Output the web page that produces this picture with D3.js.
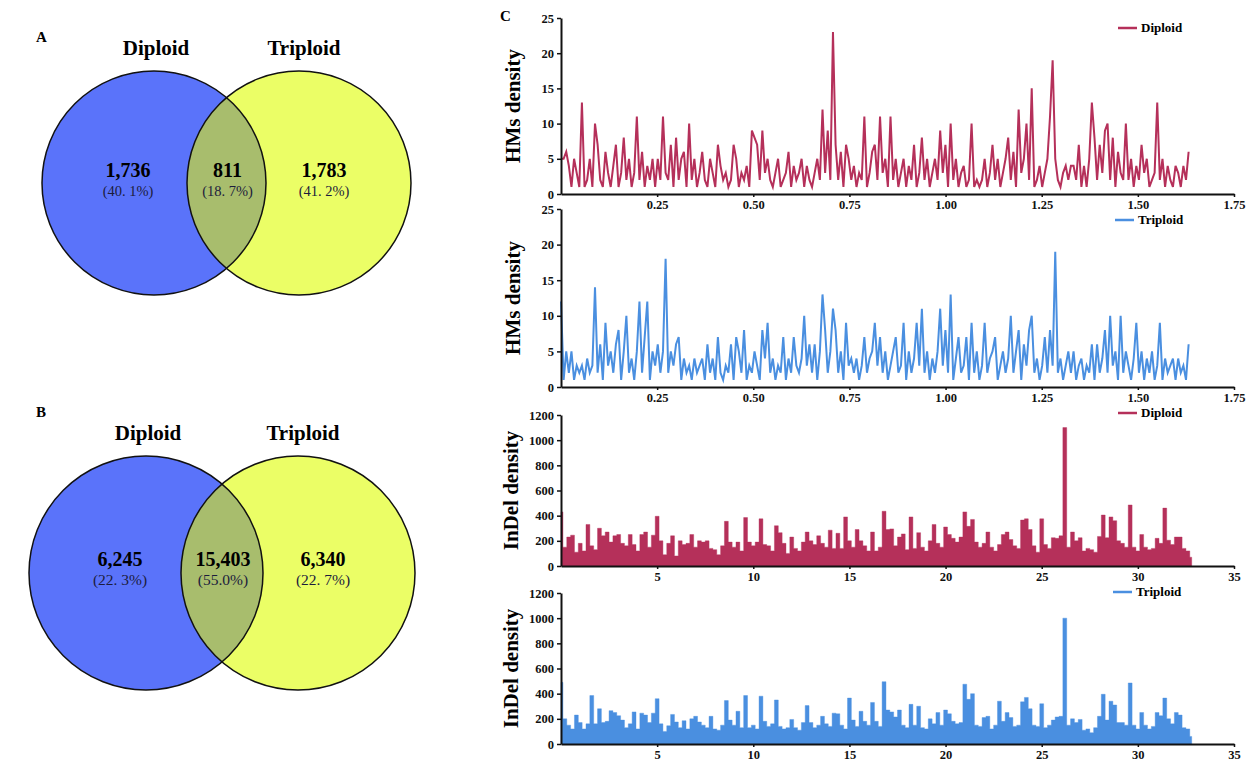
<!DOCTYPE html>
<html>
<head>
<meta charset="utf-8">
<script src="https://cdn.jsdelivr.net/npm/d3@7"></script>
<style>
  body { margin: 0; background: #fff; }
  text { font-family: "Liberation Serif", "Times New Roman", serif; }
</style>
</head>
<body>
<script>
// ---- data ----
var vennGroups = ["Diploid", "Triploid"];
var vennA = ["1,736", "811", "1,783"];
var vennAPct = ["(40. 1%)", "(18. 7%)", "(41. 2%)"];
var vennB = ["6,245", "15,403", "6,340"];
var vennBPct = ["(22. 3%)", "(55.0%)", "(22. 7%)"];

// HMs density, one value per bin of 0.0068 (x axis 0 - 1.75)
var hmsStep = 0.0068;
var hmsDiploid = [
  5,5,6,4,1,5,3,1,13,1,2,5,1,10,7,2,1,6,3,1,
  4,7,1,3,8,2,5,1,3,11,2,6,1,4,2,5,1,5,2,11,
  3,2,7,1,8,2,5,6,1,10,2,5,1,3,6,2,1,5,3,1,
  7,4,2,3,1,2,7,5,1,3,2,4,1,9,8,7,2,9,3,5,
  2,1,3,5,1,2,3,6,1,4,2,3,5,1,4,2,1,3,5,2,
  12,3,9,2,23,7,2,6,1,7,5,2,4,1,3,2,11,1,3,6,
  7,2,11,3,5,1,11,2,5,1,3,5,1,4,2,7,1,3,8,2,
  5,1,3,5,2,9,3,7,1,10,2,5,1,3,4,1,2,10,1,2,
  1,2,5,1,3,7,2,5,1,3,5,8,2,6,1,12,3,5,10,2,
  15,1,2,4,1,3,5,11,19,5,2,1,3,4,2,4,4,2,7,1,
  4,1,5,13,8,2,7,3,9,10,2,8,1,6,3,2,10,2,5,1,
  4,2,7,3,5,1,2,3,13,2,5,1,4,2,1,4,3,1,4,2,6
];
var hmsTriploid = [
  12,1,5,2,5,1,3,2,3,1,4,2,3,14,2,6,1,9,3,5,
  2,6,8,1,5,10,2,4,1,5,12,2,7,12,1,5,3,6,2,5,
  18,2,5,3,6,7,1,4,2,3,1,4,2,3,4,1,6,2,4,1,
  7,2,1,3,2,6,1,7,5,2,8,1,3,2,5,3,1,8,4,9,
  2,4,1,3,2,7,1,4,2,7,3,2,4,10,3,6,2,6,1,5,
  13,8,2,5,11,8,2,5,1,9,3,4,2,4,1,3,7,2,4,5,
  9,3,7,2,5,1,3,5,7,2,3,9,1,5,2,4,9,3,11,2,
  5,1,4,2,5,11,3,8,2,13,1,4,7,2,3,7,1,9,2,5,
  1,3,9,2,4,5,7,1,3,5,2,4,10,2,5,8,1,6,3,8,
  10,2,4,1,3,7,2,8,3,19,2,4,1,3,5,2,5,1,3,4,
  1,3,2,6,1,6,2,4,8,2,10,3,5,1,10,2,5,3,1,4,
  9,2,5,1,4,2,5,1,3,9,1,4,2,3,4,1,4,2,3,1,6
];

// InDel density, one value per bin of 0.2 (x axis 0 - 35)
var indelStep = 0.2;
var indelDiploid = [
  430,150,230,245,110,180,120,330,160,130,300,240,270,190,240,
  250,180,160,250,170,120,250,270,150,245,395,200,90,180,240,
  80,200,170,180,250,150,200,190,200,140,130,90,160,355,190,
  150,190,120,385,190,160,190,375,170,160,120,320,265,180,100,
  230,140,120,190,270,200,170,240,180,150,285,140,260,140,390,
  200,150,290,200,160,120,270,120,150,435,290,295,160,230,255,
  130,390,140,265,150,120,200,330,180,150,310,250,220,190,230,
  430,315,370,190,150,180,270,150,120,170,250,270,210,160,140,
  365,375,290,160,110,375,170,140,225,220,240,1100,150,270,200,
  225,120,140,130,110,235,405,225,390,360,200,180,150,485,150,
  120,250,150,130,140,220,180,460,205,170,230,230,140,120,70
];
var indelTriploid = [
  490,200,150,120,230,170,120,160,385,160,280,170,180,265,250,
  225,190,130,160,255,120,245,230,170,245,360,160,100,145,235,
  175,130,185,120,200,220,175,150,130,220,120,110,150,345,190,
  150,260,130,385,130,150,120,380,180,140,160,350,140,120,130,
  195,130,110,170,305,170,130,150,220,160,140,245,240,150,120,
  365,190,140,260,180,150,330,180,140,495,270,255,215,270,150,
  130,315,150,300,130,120,200,160,250,150,270,240,180,160,170,
  475,355,400,150,140,210,220,120,150,340,180,250,210,140,150,
  335,370,280,150,140,320,130,150,190,215,220,1000,150,200,170,
  195,110,120,90,130,220,395,190,340,310,170,170,150,485,150,
  120,250,150,120,140,250,225,365,200,160,250,230,130,120,60
];

var hmsTicksX = [0.25, 0.5, 0.75, 1.0, 1.25, 1.5, 1.75];
var hmsTicksY = [0, 5, 10, 15, 20, 25];
var indelTicksX = [5, 10, 15, 20, 25, 30, 35];
var indelTicksY = [0, 200, 400, 600, 800, 1000, 1200];

var colDip = "#b5305a";
var colTri = "#4a8fe0";

var svg = d3.select("body").append("svg").attr("width", 1254).attr("height", 763);

// ---- Venn diagrams ----
function venn(id, cx1, cx2, cy, r, labelY, letter, letterY, nums, pcts, numY, pctSize) {
  var g = svg.append("g");
  var defs = svg.append("defs");
  defs.append("clipPath").attr("id", id).append("circle")
    .attr("cx", cx2).attr("cy", cy).attr("r", r);

  g.append("circle").attr("cx", cx1).attr("cy", cy).attr("r", r).attr("fill", "#5a73fa");
  g.append("circle").attr("cx", cx2).attr("cy", cy).attr("r", r).attr("fill", "#ebfe66");
  g.append("circle").attr("cx", cx1).attr("cy", cy).attr("r", r)
    .attr("fill", "#a8bd6d").attr("clip-path", "url(#" + id + ")");
  [cx1, cx2].forEach(function(cx) {
    g.append("circle").attr("cx", cx).attr("cy", cy).attr("r", r)
      .attr("fill", "none").attr("stroke", "#111").attr("stroke-width", 1.5);
  });

  g.append("text").attr("x", 36).attr("y", letterY).text(letter)
    .attr("font-size", 15).attr("font-weight", "bold");
  g.append("text").attr("x", cx1 + 2).attr("y", labelY).text(vennGroups[0])
    .attr("text-anchor", "middle").attr("font-size", 21).attr("font-weight", "bold");
  g.append("text").attr("x", cx2 + 5).attr("y", labelY).text(vennGroups[1])
    .attr("text-anchor", "middle").attr("font-size", 21).attr("font-weight", "bold");

  var mid = (cx1 + cx2) / 2;
  var xs = [cx1 - 26, mid + 1, cx2 + 25];
  nums.forEach(function(n, i) {
    g.append("text").attr("x", xs[i]).attr("y", numY).text(n)
      .attr("text-anchor", "middle").attr("font-size", 20).attr("font-weight", "bold");
    g.append("text").attr("x", xs[i]).attr("y", numY + 19).text(pcts[i])
      .attr("text-anchor", "middle").attr("font-size", pctSize).attr("fill", "#1c1c3c");
  });
}

venn("clipA", 154, 299, 183, 112, 55, "A", 42, vennA, vennAPct, 177, 14.5);
venn("clipB", 146, 298, 573, 117, 440, "B", 417, vennB, vennBPct, 566, 15.5);

// ---- panel C ----
svg.append("text").attr("x", 500).attr("y", 21).text("C")
  .attr("font-size", 15).attr("font-weight", "bold");

function panel(values, step, area, color, top, bottom, xMax, yMax, ticksX, ticksY, ylab, ylabX, legend, legY, legX) {
  var x = d3.scaleLinear().domain([0, xMax]).range([561, 1234]);
  var y = d3.scaleLinear().domain([0, yMax]).range([bottom, top]);
  var g = svg.append("g");

  if (area) {
    g.append("path").datum(values)
      .attr("d", d3.area().curve(d3.curveStep)
        .x(function(d, i) { return x(i * step); }).y0(y(0)).y1(function(d) { return y(d); }))
      .attr("fill", color).attr("stroke", color).attr("stroke-width", 0.4);
  } else {
    g.append("path").datum(values)
      .attr("d", d3.line().x(function(d, i) { return x(i * step); }).y(function(d) { return y(d); }))
      .attr("fill", "none").attr("stroke", color).attr("stroke-width", 2)
      .attr("stroke-linejoin", "miter");
  }

  var xa = g.append("g").attr("transform", "translate(0," + bottom + ")")
    .call(d3.axisBottom(x).tickValues(ticksX).tickSize(3).tickSizeOuter(0)
      .tickFormat(xMax > 10 ? d3.format("d") : d3.format(".2f")));
  var ya = g.append("g").attr("transform", "translate(561,0)")
    .call(d3.axisLeft(y).tickValues(ticksY).tickSize(4).tickSizeOuter(0).tickFormat(d3.format("d")));
  [xa, ya].forEach(function(a) {
    a.select(".domain").attr("stroke", "#111").attr("stroke-width", 2);
    a.selectAll(".tick line").attr("stroke", "#111").attr("stroke-width", 1.5);
    a.selectAll("text").attr("font-family", "Liberation Serif, serif")
      .attr("font-size", 12.5).attr("font-weight", "bold").attr("fill", "#111");
  });

  g.append("text").attr("transform", "translate(" + ylabX + "," + ((top + bottom) / 2) + ") rotate(-90)")
    .attr("text-anchor", "middle").attr("font-size", 21).attr("font-weight", "bold").text(ylab);

  g.append("line").attr("x1", legX).attr("x2", legX + 19).attr("y1", legY).attr("y2", legY)
    .attr("stroke", color).attr("stroke-width", 2.5);
  g.append("text").attr("x", legX + 23).attr("y", legY + 4).text(legend)
    .attr("font-size", 13).attr("font-weight", "bold");
}

panel(hmsDiploid, hmsStep, false, colDip, 18, 194, 1.75, 25, hmsTicksX, hmsTicksY, "HMs density", 520, "Diploid", 28, 1118);
panel(hmsTriploid, hmsStep, false, colTri, 209, 387, 1.75, 25, hmsTicksX, hmsTicksY, "HMs density", 520, "Triploid", 220, 1115);
panel(indelDiploid, indelStep, true, colDip, 415, 566, 35, 1200, indelTicksX, indelTicksY, "InDel density", 518, "Diploid", 413, 1118);
panel(indelTriploid, indelStep, true, colTri, 593, 744, 35, 1200, indelTicksX, indelTicksY, "InDel density", 518, "Triploid", 592, 1113);
</script>
</body>
</html>
